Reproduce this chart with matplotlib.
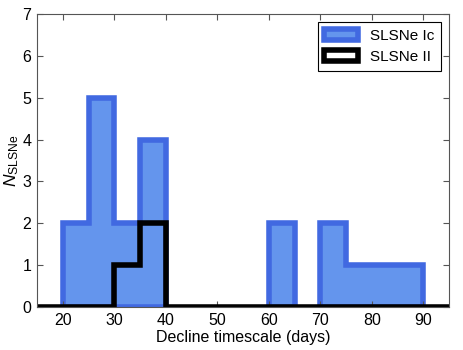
import matplotlib
matplotlib.use("Agg")
import matplotlib.pyplot as plt
import numpy as np

plt.rcParams['font.family'] = ['Liberation Sans', 'DejaVu Sans']
plt.rcParams['mathtext.fontset'] = 'custom'
plt.rcParams['mathtext.rm'] = 'Liberation Sans'
plt.rcParams['mathtext.it'] = 'Liberation Sans:italic'

# bin edges (days) and counts
edges = [15, 20, 25, 30, 35, 40, 45, 50, 55, 60, 65, 70, 75, 80, 85, 90, 95]
n_ic = [0, 2, 5, 2, 4, 0, 0, 0, 0, 2, 0, 2, 1, 1, 1, 0]
n_ii = [0, 0, 0, 1, 2, 0, 0, 0, 0, 0, 0, 0, 0, 0, 0, 0]

edges = np.array(edges)
mids = edges[:-1] + 2.5

fig = plt.figure(figsize=(4.63, 3.5), dpi=100)
ax = fig.add_axes([0.080, 0.123, 0.890, 0.837])

# blue: only draw the non-empty runs so the outline doesn't sit along zero
ic = np.array(n_ic)
runs = []
start = None
for i, c in enumerate(ic):
    if c > 0 and start is None:
        start = i
    if c == 0 and start is not None:
        runs.append((start, i))
        start = None
if start is not None:
    runs.append((start, len(ic)))
for k, (a, b) in enumerate(runs):
    ax.hist(mids[a:b], bins=edges[a:b + 1], weights=ic[a:b], histtype='stepfilled',
            facecolor='#6495ED', edgecolor='#4169E1', linewidth=4,
            label='SLSNe Ic' if k == 0 else None)

ax.hist(mids, bins=edges, weights=n_ii, histtype='step', color='black',
        linewidth=4, label='SLSNe II')

ax.set_xlim(15, 95)
ax.set_ylim(0, 7)
ax.set_xticks(np.arange(20, 91, 10))
ax.set_yticks(np.arange(0, 8, 1))
ax.tick_params(direction='in', top=True, right=True, labelsize=11.5, length=4,
               color='#555555', pad=4)
for s in ax.spines.values():
    s.set_color('#555555')
ax.set_xlabel('Decline timescale (days)', fontsize=11.5, labelpad=2)
ax.set_ylabel(r'$N_{\rm SLSNe}$', fontsize=12.5, labelpad=1)

leg = ax.legend(loc='upper right', fontsize=11, fancybox=False, framealpha=1,
                handlelength=2.2, borderpad=0.45, borderaxespad=0.5)
leg.get_frame().set_edgecolor('black')
leg.get_frame().set_linewidth(0.8)

fig.savefig('out.png', dpi=100)
